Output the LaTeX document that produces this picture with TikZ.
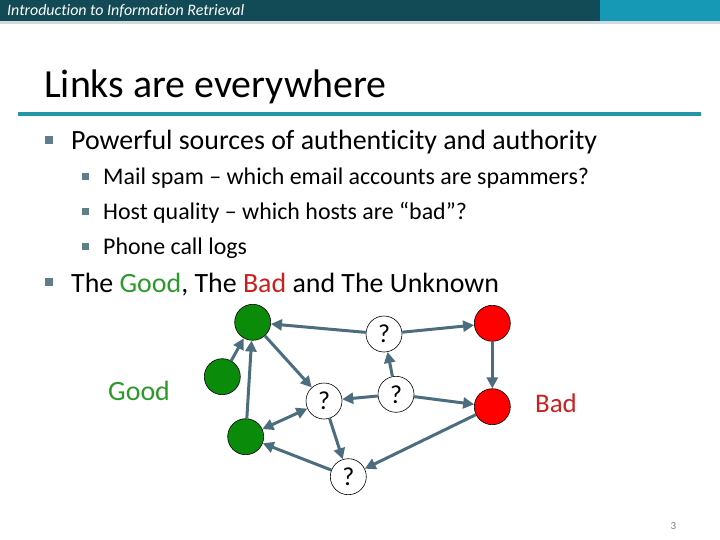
\documentclass[tikz,border=0pt]{standalone}
\usepackage{fontspec}
\setmainfont{Carlito}[Ligatures=NoCommon]
\usetikzlibrary{arrows.meta, positioning}
\definecolor{headdark}{HTML}{124A55}
\definecolor{headlight}{HTML}{1599B5}
\definecolor{headgrey}{HTML}{D3DADD}
\definecolor{ruleteal}{HTML}{2596A9}
\definecolor{bulletgrey}{HTML}{5E7E8C}
\definecolor{edgeslate}{HTML}{4C6D7E}
\definecolor{nodegreen}{HTML}{0A8C0A}
\definecolor{nodered}{HTML}{FF0000}
\definecolor{textgreen}{HTML}{2A9A2A}
\definecolor{textred}{HTML}{CC1F1F}
\definecolor{pagegrey}{HTML}{7F7F7F}
\tikzset{
    vertex/.style={circle, draw=black, line width=0.6pt, minimum size=36bp, inner sep=0pt, font=\fontsize{26}{28}\selectfont},
    goodnode/.style={vertex, fill=nodegreen},
    badnode/.style={vertex, fill=nodered},
    unknode/.style={vertex, fill=white},
    link/.style={-{Triangle[length=11bp, width=11bp]}, line width=3bp, draw=edgeslate},
    twolink/.style={{Triangle[length=11bp, width=11bp]}-{Triangle[length=11bp, width=11bp]}, line width=3bp, draw=edgeslate},
    bulletone/.style={rectangle, fill=bulletgrey, minimum size=8bp, inner sep=0pt},
    bullettwo/.style={bulletone, minimum size=7bp},
    txtone/.style={anchor=base west, inner sep=0pt, font=\fontsize{28}{30}\selectfont},
    txttwo/.style={anchor=base west, inner sep=0pt, font=\fontsize{24}{26}\selectfont}
}
\begin{document}
\begin{tikzpicture}[x=1bp, y=-1bp]
    \useasboundingbox (0,0) rectangle (720,540);
    % header bar
    \fill[headdark] (0,0) rectangle (600,21.5);
    \fill[headlight] (600,0) rectangle (720,21.5);
    \fill[headgrey] (0,21.5) rectangle (720,24);
    \node[anchor=base west, inner sep=0pt, text=white, font=\fontsize{16}{18}\selectfont\itshape] (header) at (7,16) {Introduction to Information Retrieval};
    % title
    \node[anchor=base west, inner sep=0pt, font=\fontsize{40}{44}\selectfont] (title) at (44,98) {Links are everywhere};
    \fill[ruleteal] (18,112) rectangle (701,116);
    % bullets
    \node[bulletone] (b1) at (49,140) {};
    \node[txtone] (t1) at (71,150) {Powerful sources of authenticity and authority};
    \node[bullettwo] (b2) at (85.5,176.5) {};
    \node[txttwo] (t2) at (103,184.5) {Mail spam -- which email accounts are spammers?};
    \node[bullettwo] (b3) at (85.5,211.5) {};
    \node[txttwo] (t3) at (103,219.5) {Host quality -- which hosts are “bad”?};
    \node[bullettwo] (b4) at (85.5,246.5) {};
    \node[txttwo] (t4) at (103,254.5) {Phone call logs};
    \node[bulletone] (b5) at (49,282) {};
    \node[txtone] (t5) at (71,292) {The \textcolor{textgreen}{Good}, The \textcolor{textred}{Bad} and The Unknown};

    % graph
    \node[goodnode] (g1) at (252.7,322.3) {};
    \node[goodnode] (g2) at (222.3,376.7) {};
    \node[goodnode] (g3) at (245.7,436.7) {};
    \node[badnode] (r1) at (492.3,323.3) {};
    \node[badnode] (r2) at (492.3,406.7) {};
    \node[unknode] (q1) at (384,334) {?};
    \node[unknode] (q2) at (324,401) {?};
    \node[unknode] (q3) at (396,394.3) {?};
    \node[unknode] (q4) at (348.3,476.7) {?};

    \draw[link] (q1) -- (g1);
    \draw[link] (q1) -- (r1);
    \draw[link] (r1) -- (r2);
    \draw[link] (g2) -- (g1);
    \draw[link] (g3) -- (g1);
    \draw[link] (g1) -- (q2);
    \draw[link] (q3) -- (q1);
    \draw[link] (q3) -- (q2);
    \draw[link] (q3) -- (r2);
    \draw[twolink] (g3) -- (q2);
    \draw[link] (q2) -- (q4);
    \draw[link] (q4) -- (g3);
    \draw[link] (r2) -- (q4);

    \node[anchor=base west, inner sep=0pt, text=textgreen, font=\fontsize{28}{30}\selectfont] (goodlbl) at (108,400) {Good};
    \node[anchor=base west, inner sep=0pt, text=textred, font=\fontsize{27}{29}\selectfont] (badlbl) at (535,412) {Bad};
    % page number
    \node[anchor=base west, inner sep=0pt, text=pagegrey, font=\fontsize{11}{12}\selectfont] (pagenum) at (670.5,529) {3};
\end{tikzpicture}
\end{document}
